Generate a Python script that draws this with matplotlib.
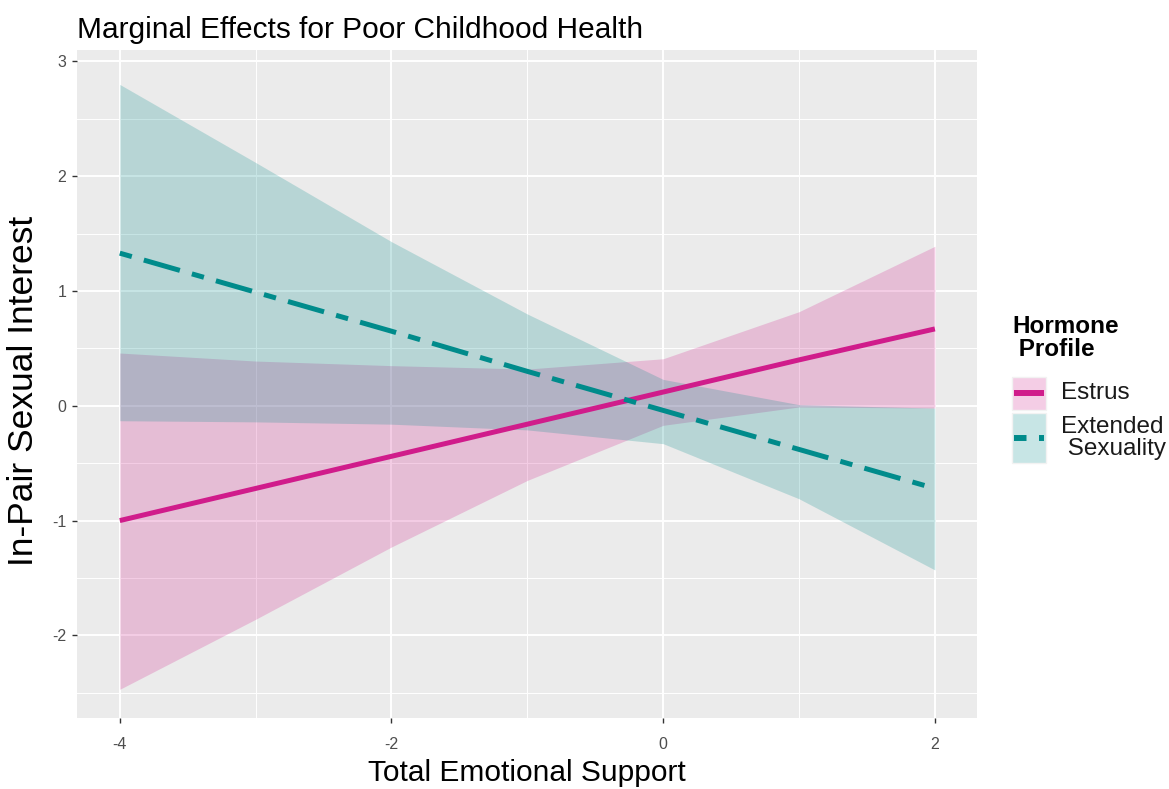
import matplotlib
matplotlib.use("Agg")
import matplotlib.pyplot as plt
from matplotlib.patches import Rectangle
from matplotlib.lines import Line2D
from matplotlib.ticker import MultipleLocator

# values
support = [-4, -3, -2, -1, 0, 1, 2]
estrus_fit = [-1.00, -0.72, -0.44, -0.16, 0.12, 0.40, 0.67]
estrus_lo = [-2.47, -1.86, -1.23, -0.65, -0.17, -0.01, -0.02]
estrus_hi = [0.46, 0.39, 0.35, 0.32, 0.41, 0.82, 1.39]
ext_fit = [1.33, 0.99, 0.65, 0.30, -0.04, -0.38, -0.72]
ext_lo = [-0.13, -0.14, -0.16, -0.21, -0.33, -0.81, -1.43]
ext_hi = [2.80, 2.12, 1.43, 0.80, 0.23, 0.01, -0.02]

groups = ["Estrus", "Extended\n Sexuality"]
pink = "#D01C8B"
teal = "#008B8B"
panel_bg = "#EBEBEB"
fill_alpha = 0.22
lw = 3.6
ext_dash = (9, 9, 27, 9)

plt.rcParams['font.family'] = ['Liberation Sans', 'DejaVu Sans']
plt.rcParams['lines.scale_dashes'] = False
plt.rcParams['axes.unicode_minus'] = False

W, H = 1169, 789
fig = plt.figure(figsize=(W / 100, H / 100), dpi=100)


def fx(px):
    return px / W


def fy(py):
    return 1 - py / H


ax = fig.add_axes([fx(77), fy(718), fx(900), 668 / H])
ax.set_facecolor(panel_bg)

ax.fill_between(support, estrus_lo, estrus_hi, color=pink, alpha=fill_alpha, linewidth=0)
ax.fill_between(support, ext_lo, ext_hi, color=teal, alpha=fill_alpha, linewidth=0)
ax.plot(support, estrus_fit, color=pink, linewidth=lw, solid_capstyle='butt')
ax.plot(support, ext_fit, color=teal, linewidth=lw, dashes=ext_dash,
        dash_capstyle='butt')

ax.set_xlim(-4.315, 2.31)
ax.set_ylim(-2.72, 3.10)
ax.xaxis.set_major_locator(MultipleLocator(2))
ax.xaxis.set_minor_locator(MultipleLocator(1))
ax.yaxis.set_major_locator(MultipleLocator(1))
ax.yaxis.set_minor_locator(MultipleLocator(0.5))
ax.grid(which='major', color='white', linewidth=1.4)
ax.grid(which='minor', color='white', linewidth=0.7)
ax.set_axisbelow(True)
for s in ax.spines.values():
    s.set_visible(False)
ax.tick_params(which='major', length=3.8, width=1, color='#333333',
               labelcolor='#4D4D4D', labelsize=11.5)
ax.tick_params(axis='x', pad=10)
ax.tick_params(axis='y', pad=4)
ax.tick_params(which='minor', length=0)

ax.set_xlabel("Total Emotional Support", fontsize=21.5, labelpad=5)
ax.set_ylabel("In-Pair Sexual Interest", fontsize=25.5)
ax.yaxis.set_label_coords(-0.041, 0.49)
ax.set_title("Marginal Effects for Poor Childhood Health", fontsize=21.5,
             loc='left', pad=9)

# legend, drawn by hand in ggplot fashion
fig.text(fx(1012), fy(338), "Hormone\n Profile", fontsize=17.5, fontweight='bold',
         va='center', ha='left', linespacing=1.0)
keys = [(377, 410, pink, None), (413, 463, teal, ext_dash)]
for (top, bot, col, dash), lab in zip(keys, groups):
    fig.patches.append(Rectangle((fx(1012), fy(bot)), fx(34), (bot - top) / H,
                                 transform=fig.transFigure, facecolor=col,
                                 alpha=fill_alpha, edgecolor='none'))
    fig.patches.append(Rectangle((fx(1012), fy(bot)), fx(34), (bot - top) / H,
                                 transform=fig.transFigure, facecolor='none',
                                 edgecolor='#F2F2F2', linewidth=1))
    ymid = fy((top + bot) / 2)
    kw = dict(dashes=dash, dash_capstyle='butt') if dash else dict(solid_capstyle='butt')
    fig.lines.append(Line2D([fx(1014), fx(1044)], [ymid, ymid], transform=fig.transFigure,
                            color=col, linewidth=4.3, **kw))
    fig.text(fx(1061), ymid, lab, fontsize=17.5, va='center', ha='left',
             color='#1A1A1A', linespacing=1.05)

fig.savefig("out.png", dpi=100, facecolor='white')
